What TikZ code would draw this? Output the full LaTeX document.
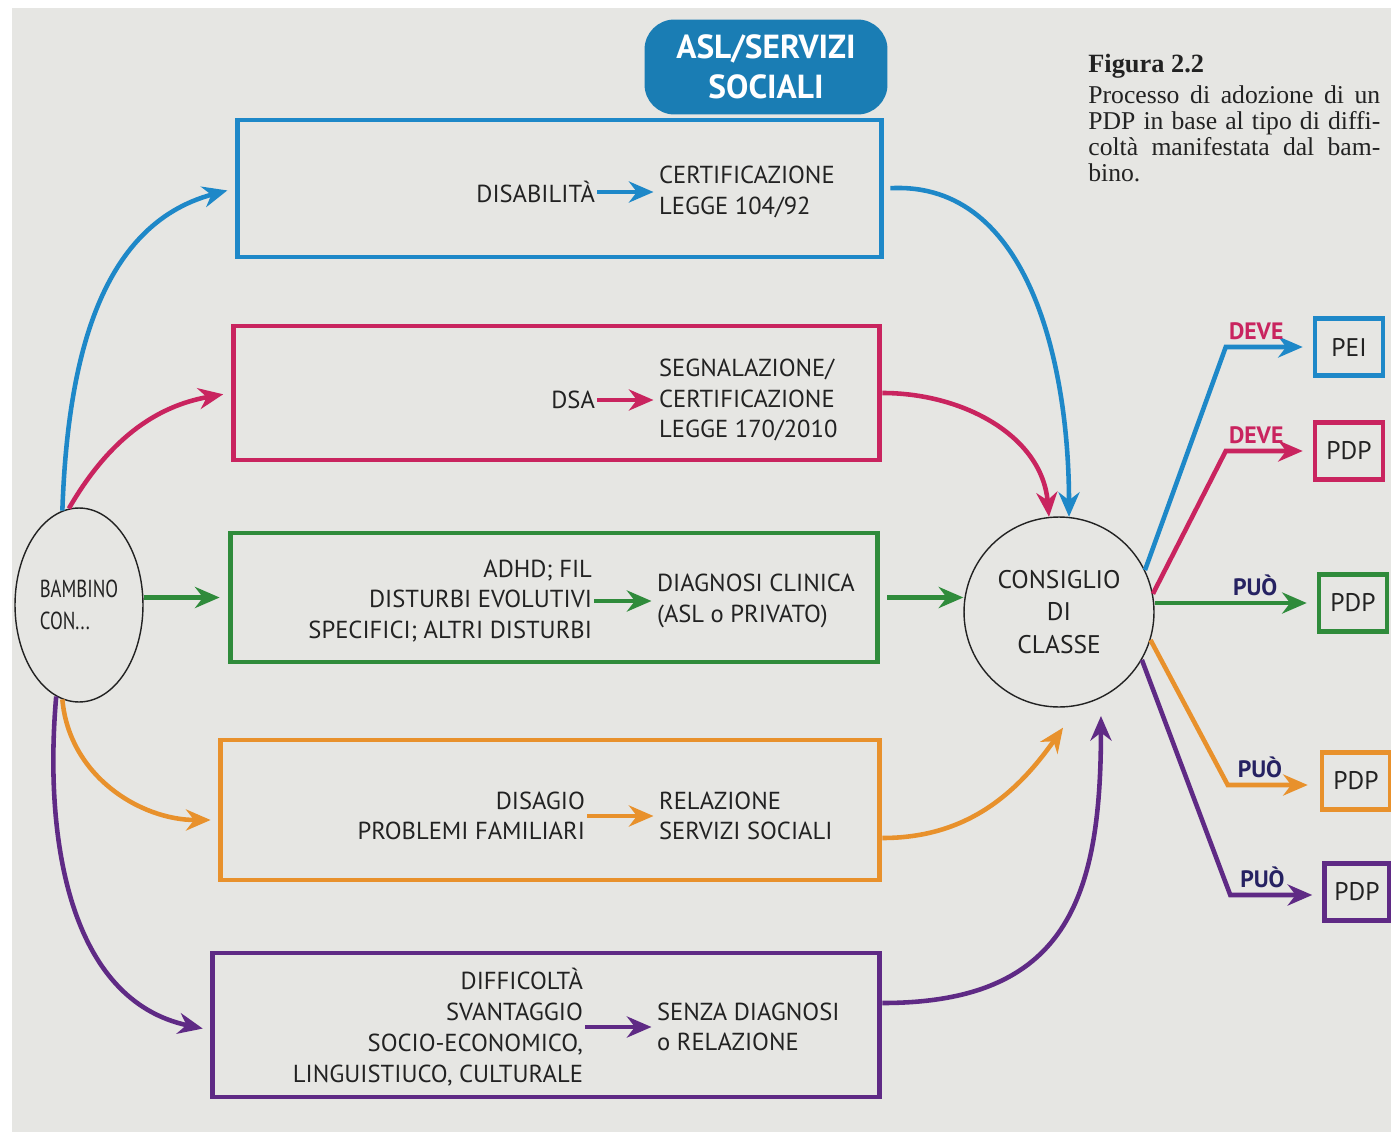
\documentclass[tikz,border=0pt]{standalone}
\usepackage{fontspec}
\setmainfont{Liberation Serif}
\setsansfont{PT Sans}
\newfontfamily\narrowsf[FakeStretch=0.76]{PT Sans}
\usepackage{xcolor}
\usepackage{tikz}
\usetikzlibrary{shapes.geometric, arrows.meta, positioning}

\definecolor{pagebg}{HTML}{E6E6E3}
\definecolor{ink}{HTML}{222222}
\definecolor{aslblue}{HTML}{1E88C8}
\definecolor{aslfill}{HTML}{1A7DB4}
\definecolor{dsamag}{HTML}{C9245F}
\definecolor{adhdgreen}{HTML}{2F8B3B}
\definecolor{disorange}{HTML}{E8912C}
\definecolor{svpurple}{HTML}{5F2A85}
\definecolor{puonavy}{HTML}{262262}

\begin{document}
\begin{tikzpicture}[
    x=0.02cm, y=-0.02cm,
    txt/.style={font=\sffamily\fontsize{14}{17.5}\selectfont, text=ink, inner sep=1pt},
    box/.style={rectangle, draw, line width=2.8pt},
    outbox/.style={rectangle, draw, line width=2.6pt, minimum width=1.36cm, minimum height=1.14cm, font=\sffamily\fontsize{14.5}{16}\selectfont, text=ink},
    aslbox/.style={rectangle, rounded corners=0.6cm, fill=aslfill, text=white, align=center, minimum width=4.86cm, minimum height=1.9cm, font=\sffamily\bfseries\fontsize{19}{23}\selectfont},
    arrow/.style={-{Stealth[length=14pt, width=12pt]}, line width=2.6pt},
    lbl/.style={font=\sffamily\bfseries\fontsize{13.5}{15}\selectfont, above, inner sep=3pt}
]

% pagina
\useasboundingbox (0,0) rectangle (1391,1138);
\fill[white] (0,0) rectangle (1391,1138);
\fill[pagebg] (12,8) rectangle (1391,1132);

% titolo e didascalia
\node[aslbox] (asl) at (766,67) {ASL/SERVIZI\\SOCIALI};
\node[anchor=north west, inner sep=0pt, font=\bfseries\fontsize{15}{16}\selectfont, text=ink] (figt) at (1088,54) {Figura 2.2};
\node[below=0.14cm of figt.south west, anchor=north west, inner sep=0pt, text width=5.84cm, align=justify, font=\fontsize{14.6}{14.8}\selectfont, text=ink] (capt)
  {Processo di adozione di un\linebreak PDP in base al tipo di diffi-\linebreak coltà manifestata dal bam-\linebreak bino.};

% riquadri
\node[box, draw=aslblue, minimum width=12.9cm, minimum height=2.74cm] (b1) at (559.5,188.5) {};
\node[box, draw=dsamag, minimum width=12.94cm, minimum height=2.68cm] (b2) at (556.5,393) {};
\node[box, draw=adhdgreen, minimum width=12.96cm, minimum height=2.58cm] (b3) at (554,597.5) {};
\node[box, draw=disorange, minimum width=13.2cm, minimum height=2.8cm] (b4) at (550,810) {};
\node[box, draw=svpurple, minimum width=13.36cm, minimum height=2.88cm] (b5) at (546,1025) {};

% testi nei riquadri
\node[txt, align=left, anchor=west] (cert) at (657,192) {CERTIFICAZIONE\\LEGGE 104/92};
\node[txt, left=1.2cm of cert] (dis) {DISABILITÀ};
\draw[arrow, aslblue, shorten >=2pt] (dis.east) -- (dis.east -| cert.west);

\node[txt, align=left, anchor=west] (segn) at (657,400) {SEGNALAZIONE/\\CERTIFICAZIONE\\LEGGE 170/2010};
\node[txt, left=1.2cm of segn] (dsa) {DSA};
\draw[arrow, dsamag, shorten >=2pt] (dsa.east) -- (dsa.east -| segn.west);

\node[txt, align=left, anchor=west] (diag) at (655,601) {DIAGNOSI CLINICA\\(ASL o PRIVATO)};
\node[txt, align=right, left=1.22cm of diag] (adhd) {ADHD; FIL\\DISTURBI EVOLUTIVI\\SPECIFICI; ALTRI DISTURBI};
\draw[arrow, adhdgreen, shorten >=2pt] (adhd.east) -- (adhd.east -| diag.west);

\node[txt, align=left, anchor=west] (rel) at (657,816) {RELAZIONE\\SERVIZI SOCIALI};
\node[txt, align=right, left=1.4cm of rel] (disag) {DISAGIO\\PROBLEMI FAMILIARI};
\draw[arrow, disorange, shorten >=2pt] (disag.east) -- (disag.east -| rel.west);

\node[txt, align=left, anchor=west] (senza) at (655,1027) {SENZA DIAGNOSI\\o RELAZIONE};
\node[txt, align=right, left=1.4cm of senza] (diff) {DIFFICOLTÀ\\SVANTAGGIO\\SOCIO-ECONOMICO,\\LINGUISTIUCO, CULTURALE};
\draw[arrow, svpurple, shorten >=2pt] (diff.east) -- (diff.east -| senza.west);

% bambino e consiglio
\node[ellipse, draw=ink, line width=0.8pt, minimum width=2.56cm, minimum height=3.88cm, align=left, text=ink, font=\narrowsf\fontsize{14}{18}\selectfont] (bam) at (79,605) {BAMBINO\\CON...};
\node[circle, draw=ink, line width=0.8pt, minimum size=3.8cm, align=center, txt, font=\sffamily\fontsize{14.5}{18.5}\selectfont] (cons) at (1059,612) {CONSIGLIO\\DI\\CLASSE};

% dal bambino ai riquadri
\draw[arrow, aslblue, shorten >=0.15cm] (bam.100) to[out=88, in=195] (b1.west);
\draw[arrow, dsamag, shorten >=0.15cm] (bam.96) to[out=60, in=190] (b2.west);
\draw[arrow, adhdgreen, shorten >=0.16cm] (b3.west -| bam.east) -- (b3.west);
\draw[arrow, disorange, shorten >=0.14cm] (bam.-100) to[out=-85, in=180] ([yshift=-0.2cm]b4.west);
\draw[arrow, svpurple, shorten >=0.14cm] (bam.-104) to[out=-95, in=168] ([yshift=-0.1cm]b5.west);

% dai riquadri al consiglio
\draw[arrow, aslblue, shorten <=0.12cm] (b1.east) to[out=3, in=90] (cons.84);
\draw[arrow, dsamag] (b2.east) to[out=0, in=95] (cons.96);
\draw[arrow, adhdgreen, shorten <=0.14cm] (b3.east) -- (b3.east -| cons.west);
\draw[arrow, disorange] ([yshift=-0.56cm]b4.east) to[out=0, in=-125] ([xshift=0.08cm, yshift=-0.4cm]cons.south);
\draw[arrow, svpurple, looseness=1.3] ([yshift=0.44cm]b5.east) to[out=0, in=-90] ([yshift=-0.36cm]cons.-64);

% esiti
\node[outbox, draw=aslblue] (pei) at (1349,347) {PEI};
\node[outbox, draw=dsamag] (pdpm) at (1349,451) {PDP};
\node[outbox, draw=adhdgreen] (pdpg) at (1353,603) {PDP};
\node[outbox, draw=disorange] (pdpo) at (1356,781) {PDP};
\node[outbox, draw=svpurple, minimum width=1.3cm] (pdpv) at (1357,892) {PDP};

\draw[arrow, aslblue, shorten >=0.2cm] (cons.26) -- ([xshift=-1.74cm]pei.west) -- node[lbl, dsamag, pos=0.35] {DEVE} (pei.west);
\draw[arrow, dsamag, shorten >=0.2cm] (cons.11) -- ([xshift=-1.74cm]pdpm.west) -- node[lbl, dsamag, pos=0.35] {DEVE} (pdpm.west);
\draw[arrow, adhdgreen, shorten >=0.2cm] (pdpg.west -| cons.east) -- node[lbl, puonavy, pos=0.62] {PUÒ} (pdpg.west);
\draw[arrow, disorange, shorten >=0.24cm] (cons.-17) -- ([xshift=-1.84cm, yshift=-0.08cm]pdpo.west) -- node[lbl, puonavy, pos=0.35] {PUÒ} ([yshift=-0.08cm]pdpo.west);
\draw[arrow, svpurple, shorten >=0.2cm] (cons.-30) -- ([xshift=-1.84cm, yshift=-0.06cm]pdpv.west) -- node[lbl, puonavy, pos=0.35] {PUÒ} ([yshift=-0.06cm]pdpv.west);

\end{tikzpicture}
\end{document}
